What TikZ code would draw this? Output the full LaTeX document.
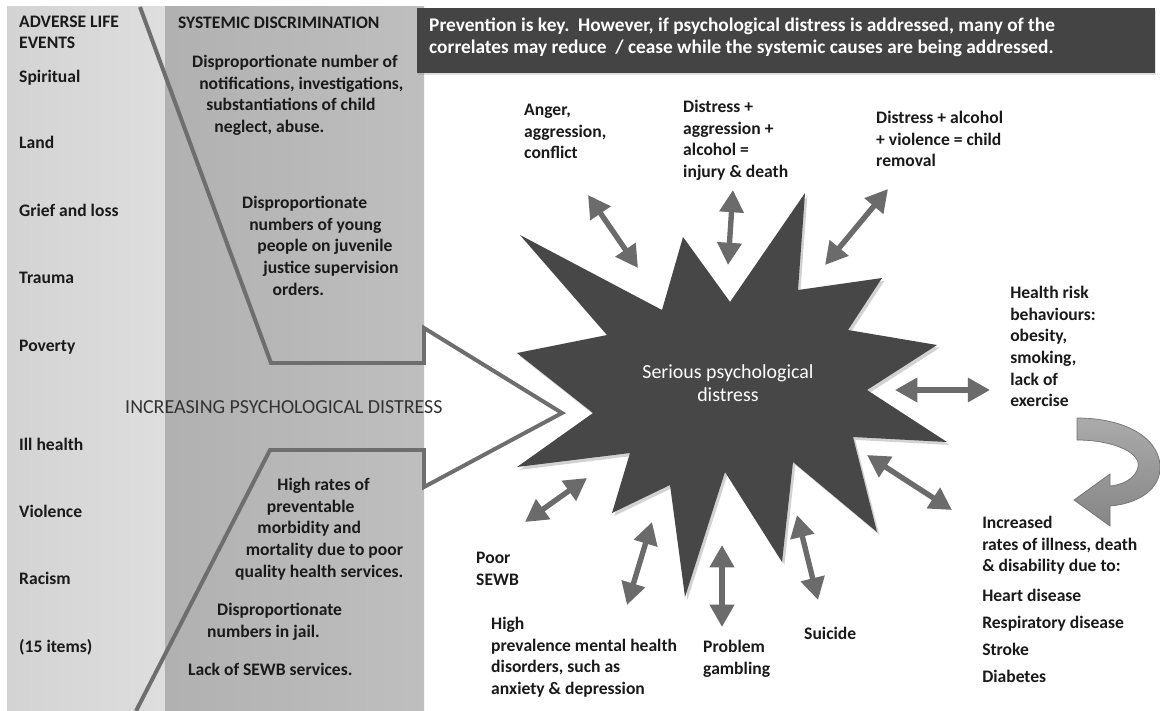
\documentclass[tikz,border=0pt]{standalone}
\usepackage{fontspec}
\setmainfont{Carlito}
\usepackage{xcolor}
\usetikzlibrary{arrows.meta}
\usetikzlibrary{shadows}
\usetikzlibrary{calc}

\definecolor{panellight}{HTML}{DEDEDE}
\definecolor{paneldark}{HTML}{BCBCBC}
\definecolor{edgegray}{HTML}{6E6E6E}
\definecolor{boxgray}{HTML}{444444}
\definecolor{stargray}{HTML}{474747}
\definecolor{arrowgray}{HTML}{6B6B6B}
\definecolor{curvegray}{HTML}{868686}
\definecolor{inkgray}{HTML}{1A1A1A}

\tikzset{
  lbl/.style={anchor=base west, inner sep=0pt, align=left, text=inkgray,
    font=\bfseries\fontsize{15}{18.5}\selectfont},
  dbl/.style={draw=arrowgray, line width=4.6pt,
    arrows={Triangle[length=19pt,width=20pt]-Triangle[length=19pt,width=20pt]}},
}

\begin{document}
\begin{tikzpicture}[x=0.03cm,y=-0.03cm]
\useasboundingbox (0,0) rectangle (1160,711);
\fill[white] (0,0) rectangle (1160,711);

\shade[left color=panellight!95!black, right color=panellight] (7,7) rectangle (165,711);
\shade[left color=paneldark!94!black, right color=paneldark!96!white] (165,7) rectangle (424,711);

\draw[edgegray, line width=3.4pt, line join=miter] (140,7) -- (271,363) -- (424,363) -- (424,328)
  -- (562,413) -- (424,487) -- (424,450) -- (270,450) -- (136,711);

\fill[boxgray, drop shadow={opacity=0.25, shadow xshift=1pt, shadow yshift=-1.5pt}] (417,8) rectangle (1155,73);

\fill[stargray, drop shadow={opacity=0.35, shadow xshift=2pt, shadow yshift=-2.5pt}]
  (520,235) -- (662,310) -- (683,237) -- (730,302) -- (805,193) -- (798,290)
  -- (882,278) -- (848,330) -- (937,345) -- (867,390) -- (947,442) -- (853,437)
  -- (877,532) -- (793,462) -- (782,562) -- (725,472) -- (685,597) -- (670,485)
  -- (612,513) -- (630,453) -- (517,467) -- (593,413) -- (517,353) -- (607,335) -- cycle;

\shade[top color=curvegray!70!white, bottom color=curvegray, draw=curvegray!85!black, line width=0.6pt]
  (1077,418) .. controls (1128,418) and (1162,440) .. (1160,470)
  .. controls (1158,492) and (1135,504) .. (1110,506) -- (1110,526) -- (1074,500) -- (1110,474)
  -- (1110,486) .. controls (1130,484) and (1140,472) .. (1138,462)
  .. controls (1133,448) and (1105,440) .. (1077,440) -- cycle;

\node[lbl] (adverse) at (19,49) {ADVERSE LIFE\\EVENTS};
\node[lbl] (systemic) at (178,28.5) {SYSTEMIC DISCRIMINATION};

\node[lbl] (spiritual) at (19,82.5) {Spiritual};
\node[lbl] (land) at (19,148.5) {Land};
\node[lbl] (grief) at (19,216.5) {Grief and loss};
\node[lbl] (trauma) at (19,283.5) {Trauma};
\node[lbl] (poverty) at (19,351.5) {Poverty};
\node[lbl] (illhealth) at (19,450.5) {Ill health};
\node[lbl] (violence) at (19,517.5) {Violence};
\node[lbl] (racism) at (19,584.5) {Racism};
\node[lbl] (items) at (19,652.5) {(15 items)};

\node[lbl] (notif) at (192,132.5) {Disproportionate number of\\\hspace*{6pt}notifications, investigations,\\\hspace*{12pt}substantiations of child\\\hspace*{19pt}neglect, abuse.};
\node[lbl] (juvenile) at (242,295.2) {Disproportionate\\\hspace*{6pt}numbers of young\\\hspace*{13pt}people on juvenile\\\hspace*{18pt}justice supervision\\\hspace*{26pt}orders.};
\node[lbl] (morbid) at (235,577.2) {\hspace*{36pt}High rates of\\\hspace*{27pt}preventable\\\hspace*{19pt}morbidity and\\\hspace*{9pt}mortality due to poor\\quality health services.};
\node[lbl] (jail) at (207,637.2) {\hspace*{8.5pt}Disproportionate\\numbers in jail.};
\node[lbl] (sewbsvc) at (188,675.5) {Lack of SEWB services.};

\node[lbl, font=\fontsize{17}{20}\selectfont, text=black!80] (increasing) at (125,413) {INCREASING PSYCHOLOGICAL DISTRESS};

\node[lbl, text=white, font=\bfseries\fontsize{16.5}{19.6}\selectfont] (prevention) at (429,54) {Prevention is key.\ \ However, if psychological distress is addressed, many of the\\correlates may reduce\ \ / cease while the systemic causes are being addressed.};

\node[align=center, text=white, font=\fontsize{17}{20}\selectfont] (distress) at (728,383) {Serious psychological\\distress};

\node[lbl] (anger) at (524,158.8) {Anger,\\aggression,\\conflict};
\node[lbl] (injury) at (683,177.5) {Distress +\\aggression +\\alcohol =\\injury \& death};
\node[lbl] (removal) at (876,166.8) {Distress + alcohol\\+ violence = child\\removal};
\node[lbl] (healthrisk) at (1010,406.8) {Health risk\\behaviours:\\obesity,\\smoking,\\lack of\\exercise};
\node[lbl] (increased) at (982,571.8) {Increased\\rates of illness, death\\\& disability due to:};
\node[lbl] (heart) at (982,601.5) {Heart disease};
\node[lbl] (resp) at (982,628.5) {Respiratory disease};
\node[lbl] (stroke) at (982,655.5) {Stroke};
\node[lbl] (diabetes) at (982,682.5) {Diabetes};
\node[lbl] (poorsewb) at (476,585.2) {Poor\\SEWB};
\node[lbl] (mental) at (491,694.5) {High\\prevalence mental health\\disorders, such as\\anxiety \& depression};
\node[lbl] (gambling) at (703,674.2) {Problem\\gambling};
\node[lbl] (suicide) at (804,639.5) {Suicide};

\coordinate (angerIn) at (638,268);
\coordinate (angerOut) at (588,195);
\coordinate (injuryIn) at (728,265);
\coordinate (injuryOut) at (733,190);
\coordinate (removalIn) at (825,265);
\coordinate (removalOut) at (888,189);
\coordinate (riskIn) at (895,390);
\coordinate (riskOut) at (990,390);
\coordinate (illIn) at (867,455);
\coordinate (illOut) at (952,510);
\coordinate (suicideIn) at (797,515);
\coordinate (suicideOut) at (818,600);
\coordinate (gambleIn) at (722,545);
\coordinate (gambleOut) at (722,627);
\coordinate (mentalIn) at (652,522);
\coordinate (mentalOut) at (627,605);
\coordinate (sewbIn) at (587,478);
\coordinate (sewbOut) at (525,522);

\draw[dbl] (angerIn) -- (angerOut);
\draw[dbl] (injuryIn) -- (injuryOut);
\draw[dbl] (removalIn) -- (removalOut);
\draw[dbl] (riskIn) -- (riskOut);
\draw[dbl] (illIn) -- (illOut);
\draw[dbl] (suicideIn) -- (suicideOut);
\draw[dbl] (gambleIn) -- (gambleOut);
\draw[dbl] (mentalIn) -- (mentalOut);
\draw[dbl] (sewbIn) -- (sewbOut);
\end{tikzpicture}
\end{document}
